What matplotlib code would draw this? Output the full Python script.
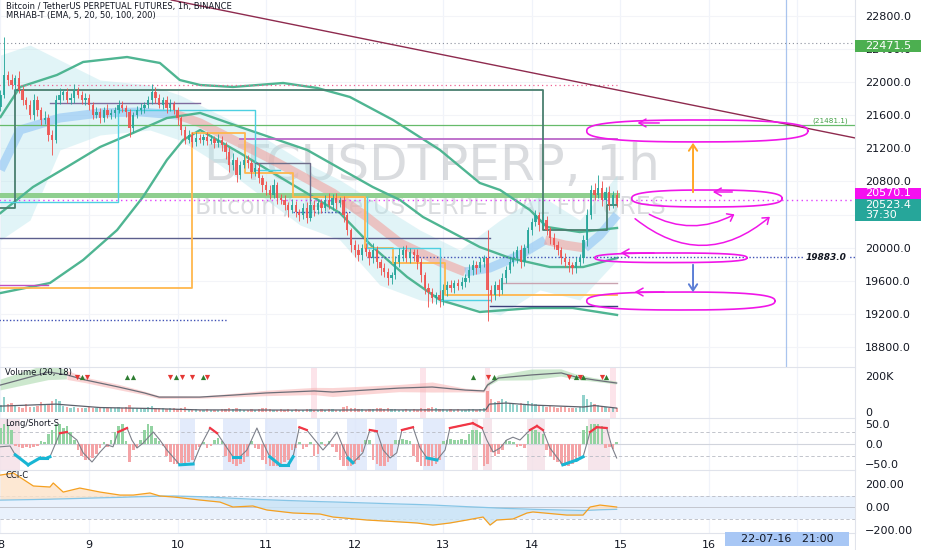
import numpy as np
import matplotlib
matplotlib.use("Agg")
import matplotlib.pyplot as plt
from matplotlib.lines import Line2D
from matplotlib.patches import Rectangle, FancyArrowPatch

plt.rcParams['font.family'] = ['DejaVu Sans']

# ---------------- data (hours since 2022-07-08 00:00, prices in USDT) ----------------
first_open = 21700
close_d8 = [21845,22087,22026,21966,22050,21905,21785,21724,21603,21785,21664,21543,21567,21362,21301,21785,21845,21881,21785,21809,21905,21845,21785,21809]
close_d9 = [21724,21603,21640,21567,21664,21603,21627,21664,21724,21688,21640,21446,21603,21664,21688,21724,21785,21881,21809,21724,21785,21688,21736,21664]
close_d10 = [21567,21422,21301,21362,21277,21325,21301,21337,21289,21313,21265,21301,21241,21156,20999,21059,20878,20999,21059,21023,20914,20963,20842,20757]
close_d11 = [20697,20636,20757,20600,20576,20516,20455,20516,20431,20395,20479,20358,20516,20455,20540,20479,20576,20516,20600,20540,20576,20395,20213,20032]
close_d12 = [19972,19911,19996,19948,19875,19972,19827,19754,19706,19633,19670,19827,19911,19972,19875,19948,19911,19827,19670,19513,19464,19392,19428,19367]
close_d13 = [19488,19549,19513,19573,19537,19585,19633,19730,19790,19754,19827,19875,19488,19428,19549,19488,19633,19730,19827,19875,19972,19827,19996,20213]
close_d14 = [20310,20395,20274,20334,20213,20117,20032,19972,19875,19827,19790,19754,19827,19875,20093,20395,20697,20636,20721,20576,20673,20516,20636,20523.4]

wick_up = [60,460,50,70,40,80,50,40,60,70,50,40,90,50,60,60,80,40,50,60,70,40,50,60,
           50,40,60,50,40,70,50,40,60,50,40,30,40,50,60,40,50,100,60,50,40,50,60,40,
           40,30,50,60,40,70,50,40,60,50,40,70,50,40,60,90,40,50,70,60,40,50,60,40,
           50,60,70,40,50,60,40,70,50,40,60,70,50,60,40,50,60,90,50,60,40,50,40,30,
           60,70,50,60,40,80,50,40,60,50,40,70,80,50,60,50,40,70,50,40,60,50,40,60,
           70,50,60,40,50,60,50,70,60,50,60,40,340,60,50,70,60,50,60,80,50,60,50,40,
           50,60,40,70,50,40,60,50,40,60,50,40,60,50,60,70,60,90,160,80,60,70,50,60]
wick_dn = [50,40,60,50,70,40,60,50,50,60,70,60,50,70,180,40,50,60,40,50,60,40,50,60,
           60,50,40,60,50,40,50,60,40,50,60,110,50,40,50,60,40,50,60,40,50,60,40,50,
           80,60,50,40,60,50,40,60,50,40,60,50,70,80,90,60,80,50,40,60,70,50,60,80,
           60,50,40,70,50,60,80,40,60,70,50,60,40,70,50,60,40,50,60,70,50,80,60,90,
           80,70,60,50,80,60,70,80,60,90,70,50,60,70,50,60,70,80,90,70,180,60,70,80,
           60,70,50,60,50,40,60,50,60,70,50,60,370,80,60,70,50,60,40,50,60,70,50,60,
           60,50,70,40,60,70,50,60,70,60,80,70,60,50,60,70,50,60,40,70,50,60,40,30]

volume_k = [40,85,45,50,35,30,25,45,30,30,35,55,40,45,60,70,60,35,30,25,30,25,20,25,
            30,25,20,25,30,20,25,22,30,25,28,40,25,22,20,24,28,35,25,20,22,18,20,22,
            18,22,30,18,14,15,12,14,16,12,14,12,16,18,22,18,24,16,14,12,16,14,18,22,
            20,16,14,12,15,13,16,12,15,13,12,15,18,14,12,15,13,16,15,13,12,30,35,25,
            22,18,15,13,18,15,20,22,18,20,15,18,14,12,15,13,16,14,20,18,22,26,20,18,
            15,13,16,13,15,12,14,18,15,13,18,22,115,75,55,60,75,60,50,45,40,50,40,60,
            50,45,40,35,30,35,30,25,28,30,25,22,25,30,95,72,55,45,40,35,30,25,22,20]
vol_ma_h = [0,15,27,40,54,80,110,131.5,132.5,137,144,158,161,167]
vol_ma_k = [33,44,25,20,12,11,12,12,44,50,39,28,36,22]
vol_osc_h = [0,13,18,23,32,39,43,54,63,72,85,90,99,108,117,126,131,132,135,144,152,156,161,167]
vol_osc_k = [150,222,206,178,139,106,83,83,94,106,117,111,122,133,139,122,117,150,189,206,217,194,178,161]
vol_osc_w = [30,45,25,15,15,10,8,6,10,15,20,25,22,20,28,10,8,10,15,30,20,15,10,8]
tri_up_h = [22.1,34.3,35.9,47.6,54.9,128,133.7,156,158,164]
tri_dn_h = [20.7,23.4,45.9,49.2,51.9,56,132,154,157,163]
vol_flag_h = [85,114.5,132,166]

ls_hist = [40,50,45,35, -5,-8,-10,-8,-10,-8,-5, 8,5, 25,35,50,50,40,45,30, 10,
           -15,-30,-40,-40,-35,-25, -10,5,-8,10, 30,45,50, 8,-45,-15,-10,10, 35,50,45, 15,8,-5,
           -30,-45,-50,-50,-48,-50,-45,-40, -15,-8,5,-10,-5, 10,15,8, -30,-45,-50,-55,-50,-45,-30, 8,-10,-12,
           -40,-50,-55,-55,-55,-50,-45,-40, -15,-10,5,-12,-8,5, -30,-25, 5,-5,8,-8,
           -20,-40,-55,-55,-55,-50,-40,-20, 10,10, -40,-50,-55,-55,-45,-30, 10,10,12,10,8,
           -30,-45,-55,-55,-55,-55,-50,-40, 8,10,12,10,10,12,10, 25,35,35,30, -55,-50, -20,-30,-25,-15, 10,8,5, -8,-5,-10,
           25,35,35,30,25, -15,-30,-40,-45,-50,-55,-55,-50,-45,-30, 35,45,50,50,50,45, -10,-8,-12,5]
osc_h = [0,2.6,4,7.5,10.7,12.6,13.4,16.1,18,20.7,22.4,24.8,27,28.8,30.5,31.9,34.3,35.6,37,38.6,41.4,43.2,45.1,48.6,52.2,
         54.1,56.8,58.7,61.4,63,64.9,66.8,69.5,71.2,73,75.7,78,79.3,81,83,87.4,89.3,91.2,92.8,94.2,95.5,98.2,100.1,102,103.7,
         105.6,107.4,108.8,111.8,113.7,115.6,118.3,120.5,121.8,128,130.5,131.8,133.5,135.4,137.2,138.9,140.8,143.5,145.4,147,
         148.9,152.4,156.2,157.9,159.8,161.6,164.3,165.7,167]
osc_v = [-7,-5,-27,-52,-35,-35,-32,27,30,10,-22,-45,-20,-2,-7,30,40,10,-10,2,30,10,-15,-52,-50,
         -7,40,27,-10,-32,-32,-15,40,2,-32,-52,-52,-32,42,35,-15,5,30,-7,-35,-47,-22,35,32,-15,
         -35,-22,35,42,-10,-35,-40,-15,40,52,40,10,-20,-10,10,17,10,35,45,35,
         -10,-52,-40,-32,30,42,40,-7,-35]
ls_blue = [(48.6,52.7),(60.3,67.6),(71.7,80.3),(85.8,86.6),(93.9,99.3),(101.5,107.5),(114.5,120.5)]
ls_pink = [(-1,5.3),(127.8,129.4),(130.8,133.2),(142.7,147.6),(159.2,165.2)]

cci_h = [0,3.5,8.9,13.4,14.3,17,21.5,27,32.4,36,40.5,43.2,47,54,59.5,63,68.4,72.2,79.3,86.6,90.1,99.3,108.3,112.9,117.2,
         121.8,126.4,130.8,132.7,134.5,138.9,142.7,144.3,153.5,157.9,159.8,162.5,167]
cci_v = [278,296,183,174,209,130,165,130,104,104,122,96,87,61,43,0,9,-26,-52,-61,-87,-113,-130,-139,-157,
         -139,-113,-87,-157,-113,-104,-52,-43,-70,-70,0,17,0]
cci_sig = [60,62,65,68,69,71,75,80,84,88,92,95,96,90,82,76,68,63,55,47,44,35,26,22,17,
           10,3,-3,-6,-9,-14,-18,-20,-27,-30,-28,-24,-20]

# indicator curves on price pane
bandA_h = [0,5.3,15.3,22.4,34.3,43.2,48.6,54.1,63,76.6,85.8,94.7,106.4,119.1,129.9,135.4,143.5,148.1,157,167.1]
bandA_p = [21579,21942,22087,22244,22304,22232,22026,21966,21942,21990,21930,21821,21543,21181,20782,20697,20455,20250,20189,20238]
bandD_h = [0,8.8,18,27,35.9,45.1,54.1,64.9,83.1,100.9,108.3,114.5,129.9,138.1,148.9,157.9,167.1]
bandD_p = [20419,20733,20975,21217,21386,21567,21628,21459,21181,20733,20576,20371,20008,19875,19766,19766,19875]
bandB_h = [0,13.4,22.4,31.6,38.6,45.1,49.5,54.1,64.9,75.7,92,100.9,110.2,119.1,129.9,144.3,155.1,167.1]
bandB_p = [19452,19573,19851,20213,20612,21060,21301,21422,21144,20854,20419,20008,19646,19368,19223,19271,19271,19187]
env_h = [0,8,16.1,27,40.5,48.6,59.5,70.3,81.2,92,102.8,113.7,124.5,135.4,146.2,157,167.1]
env_hi = [22328,22449,22268,22026,21966,21845,21603,21362,21060,20818,20516,20213,19972,20334,20637,20334,20878]
env_lo = [20093,20334,21181,21362,21422,21301,20999,20637,20274,20093,19549,19368,19307,19187,19489,19368,19851]
rib_segments = [
    ("bull", [0,5.3,16.1,27,37.8,48.1], [20939,21422,21567,21628,21640,21603]),
    ("bear", [48.1,54.1,72.2,90.1,99.3,108.3,119.1,125.9], [21603,21507,21096,20661,20371,20056,19827,19706]),
    ("bull", [125.9,132.6,140.8,147.6], [19706,19754,19911,20093]),
    ("bear", [147.6,153,158.4], [20093,20032,19996]),
    ("bull", [158.4,162.5,167.1], [19996,20153,20395]),
]
step_dark_h = [-1,3.9,3.9,147,147,164.4,164.4,167.1]
step_dark_p = [20479,20479,21906,21906,20213,20213,20516,20516]
step_orange_h = [-1,51.9,51.9,66.3,66.3,79.3,79.3,98.8,98.8,106.4,106.4,120.5,120.5,167.1]
step_orange_p = [19513,19513,21386,21386,20902,20902,20612,20612,19996,19996,19815,19815,19428,19428]
step_cyan1_h = [-1,31.8,31.8,69,69,75.7]
step_cyan1_p = [20552,20552,21664,21664,20939,20939]
step_cyan2_h = [99.3,99.3,119.1,119.1,132.7]
step_cyan2_p = [20612,19996,19996,19368,19368]
step_gray_h = [69,83.9,83.9]
step_gray_p = [21023,21023,20540]
trend_h = [46.3,231.6]
trend_p = [22993,21326]
# horizontal levels: (start hour, end hour, price, colour, style, width)
levels = [
    (-1,232,22471.5,'#8a8f9c',(0,(1,2.5)),0.8),
    (-1,167.1,21966,'#f06292',(0,(1,2.5)),0.9),
    (-1,232,21481.1,'#66bb6a','-',0.9),
    (64.9,167.1,21313,'#ba68c8','-',1.3),
    (-1,167.1,20637,'#8fcf8f','-',3.6),
    (-1,232,20570.1,'#e040fb',(0,(1,2.5)),1.0),
    (-1,132.7,20117,'#5c5f8d','-',1.0),
    (99.3,232,19883,'#3f51b5',(0,(1,1.5)),1.0),
    (79.3,94.7,20431,'#3f51b5',(0,(1,1.5)),1.0),
    (-1,61.6,19126,'#3f51b5',(0,(1,1.5)),1.0),
    (-1,12.9,19549,'#c050c0','-',1.0),
    (13.4,54.1,21748,'#7e6b9e','-',1.0),
    (132.7,167.1,19295,'#3d3f7a','-',1.0),
    (136.2,167.1,19573,'#c9a3b0','-',1.0),
]
# hand-drawn projection loops (hour0, hour1, price_top, price_bottom)
loops = [(158.9,218.8,21543,21278),(171.1,211.8,20697,20492),(161.1,202.3,19936,19820),(158.9,209.9,19464,19247)]
loop_arrows = [(179.3,171.9,21507),(199.1,192.3,20673),(177.9,167.3,19936),(180.6,171.1,19464)]
crosshair_h = 213
day_labels = ['8','9','10','11','12','13','14','15','16']
price_ticks = [18800,19200,19600,20000,20800,21200,21600,22000,22400,22800]

# ---------------- figure ----------------
W, H = 932, 550
fig = plt.figure(figsize=(W/100, H/100), dpi=100)
fig.patch.set_facecolor('white')
def fx(px): return px / W
def fy(py): return 1 - py / H
PW = 855
def add_ax(top, bottom):
    a = fig.add_axes([0, fy(bottom), fx(PW), (bottom - top) / H])
    for s in a.spines.values():
        s.set_visible(False)
    a.set_xlim(-0.135, 231.6)
    a.set_xticks([])
    a.yaxis.tick_right()
    a.tick_params(axis='y', length=0, pad=7.2, labelsize=8, labelcolor='#131722')
    for h in range(0, 217, 24):
        a.axvline(h, color='#f0f3fa', lw=0.9, zorder=0)
    return a

ax = add_ax(0, 367)
axv = add_ax(367, 418)
axl = add_ax(418, 470)
axc = add_ax(470, 533)

GREEN, RED, MAG = '#26a69a', '#ef5350', '#f016e8'

# ---- price pane ----
ax.set_ylim(18558, 22993)
ax.set_yticks(price_ticks)
ax.set_yticklabels([f"{v:.1f}" for v in price_ticks])
for p in price_ticks + [20400]:
    ax.axhline(p, color='#f3f4f8', lw=0.8, zorder=0)

ax.text(0.505, 0.548, "BTCUSDTPERP, 1h", transform=ax.transAxes, ha='center', va='center',
        fontsize=36, color='#a9acb3', alpha=0.42, zorder=1)
ax.text(0.503, 0.436, "Bitcoin / TetherUS PERPETUAL FUTURES", transform=ax.transAxes, ha='center',
        va='center', fontsize=17, color='#a9acb3', alpha=0.42, zorder=1)

ax.fill_between(env_h, env_lo, env_hi, color='#b2e4ea', alpha=0.38, lw=0, zorder=1.2)
for kind, hh, pp in rib_segments:
    ax.plot(hh, pp, color='#90c4f5' if kind == 'bull' else '#f1a3a0', lw=6.5, alpha=0.6,
            solid_capstyle='butt', zorder=2)
for hh, pp in [(bandA_h, bandA_p), (bandD_h, bandD_p), (bandB_h, bandB_p)]:
    ax.plot(hh, pp, color='#4fb592', lw=1.7, zorder=3)

for h0, h1, p, c, ls, lw in levels:
    ax.plot([h0, h1], [p, p], color=c, ls=ls, lw=lw, zorder=2.5 if lw > 3 else 3.2)
ax.plot(step_dark_h, step_dark_p, color='#4a7f6f', lw=1.3, zorder=3.3)
ax.plot(step_orange_h, step_orange_p, color='#ffb74d', lw=1.3, zorder=3.3)
ax.plot(step_cyan1_h, step_cyan1_p, color='#4dd0e1', lw=1.0, zorder=3.3)
ax.plot(step_cyan2_h, step_cyan2_p, color='#4dd0e1', lw=1.0, zorder=3.3)
ax.plot(step_gray_h, step_gray_p, color='#6d6d8a', lw=1.0, zorder=3.3)
ax.plot(trend_h, trend_p, color='#8e2a4e', lw=1.0, zorder=3.4)
ax.axvline(crosshair_h, color='#a9c4ee', lw=0.9, zorder=3)

closes = np.array(close_d8 + close_d9 + close_d10 + close_d11 + close_d12 + close_d13 + close_d14, dtype=float)
opens = np.r_[first_open, closes[:-1]]
hrs = np.arange(len(closes))
hi = np.maximum(opens, closes) + np.array(wick_up)
lo = np.minimum(opens, closes) - np.array(wick_dn)
up = closes >= opens
cols = np.where(up, GREEN, RED)
ax.vlines(hrs, lo, hi, colors=cols, lw=0.7, alpha=0.9, zorder=5)
ax.bar(hrs, np.maximum(np.abs(closes - opens), 8), bottom=np.minimum(opens, closes), width=0.62,
       color=cols, alpha=0.9, zorder=6)

# annotations
def loop(h0, h1, ptop, pbot, n=2.6):
    t = np.linspace(0, 2*np.pi, 240)
    cx, cy, a, b = (h0+h1)/2, (ptop+pbot)/2, (h1-h0)/2, (ptop-pbot)/2
    c, s = np.cos(t), np.sin(t)
    ax.plot(cx + a*np.sign(c)*np.abs(c)**(2/n), cy + b*np.sign(s)*np.abs(s)**(2/n),
            color=MAG, lw=1.2, zorder=7)
for l in loops:
    loop(*l)
for tail, head, p in loop_arrows:
    ax.annotate('', xy=(head, p), xytext=(tail, p),
                arrowprops=dict(arrowstyle='->,head_length=0.5,head_width=0.28', color=MAG, lw=1.1), zorder=7)
for a_, b_, rad in [((175.2, 20419), (199.6, 20419), 0.28), ((171.4, 20371), (209.1, 20395), 0.42)]:
    ax.add_patch(FancyArrowPatch(a_, b_, connectionstyle=f'arc3,rad={rad}',
                 arrowstyle='->,head_length=4,head_width=3', color=MAG, lw=1.1, zorder=7))
ax.annotate('', xy=(187.7, 21301), xytext=(187.7, 20637),
            arrowprops=dict(arrowstyle='->,head_length=0.45,head_width=0.3', color='#ffa726', lw=1.4), zorder=7)
ax.annotate('', xy=(187.7, 19428), xytext=(187.7, 19827),
            arrowprops=dict(arrowstyle='->,head_length=0.45,head_width=0.3', color='#5c7fd6', lw=1.4), zorder=7)
ax.text(229.7, 21500, "(21481.1)", ha='right', va='bottom', fontsize=5.2, color='#43a047', zorder=8)
ax.text(229.4, 19883, "19883.0", ha='right', va='center', fontsize=6.5, style='italic',
        weight='bold', color='#131722', zorder=8,
        bbox=dict(boxstyle='square,pad=0.1', fc='white', ec='none'))

fig.text(fx(6), fy(6.5), "Bitcoin / TetherUS PERPETUAL FUTURES, 1h, BINANCE", fontsize=6, color='#131722',
         va='center', ha='left')
fig.text(fx(6), fy(15.5), "MRHAB-T (EMA, 5, 20, 50, 100, 200)", fontsize=6, color='#131722',
         va='center', ha='left')

# ---- volume pane ----
axv.set_ylim(-33, 250)
axv.set_yticks([0, 200])
axv.set_yticklabels(['0', '200K'])
for h in vol_flag_h:
    axv.axvspan(h - 0.8, h + 0.8, color='#fce4ea', lw=0, zorder=0.5)
vol = np.array(volume_k, dtype=float)
axv.bar(hrs, vol, width=0.62, color=cols, alpha=0.5, zorder=2)
axv.plot(vol_ma_h, vol_ma_k, color='#5d606b', lw=0.9, zorder=3)
vh = np.array(vol_osc_h, float); vk = np.array(vol_osc_k, float); vw = np.array(vol_osc_w, float)
axv.fill_between(vh, vk - vw, vk + vw, where=(vh <= 20) | (vh >= 131), color='#a5d6a7', alpha=0.55, lw=0, zorder=1)
axv.fill_between(vh, vk - vw, vk + vw, where=(vh >= 18) & (vh <= 132), color='#f8b4b4', alpha=0.55, lw=0, zorder=1)
axv.plot(vh, vk, color='#6b6e78', lw=0.9, zorder=3)
axv.scatter(tri_up_h, [192]*len(tri_up_h), marker='^', s=14, color='#2e7d32', zorder=4, lw=0)
axv.scatter(tri_dn_h, [192]*len(tri_dn_h), marker='v', s=14, color='#e53935', zorder=4, lw=0)
axv.text(1.3, 218, "Volume (20, 18)", fontsize=6, color='#131722', va='center', zorder=5)

# ---- long/short pane ----
axl.set_ylim(-65, 65)
axl.set_yticks([50, 0, -50])
axl.set_yticklabels(['50.0', '0.0', '\u221250.0'])
for a_, b_ in ls_blue:
    axl.axvspan(a_, b_, color='#dce6fb', alpha=0.8, lw=0, zorder=0.5)
for a_, b_ in ls_pink:
    axl.axvspan(a_, b_, color='#f4dfe7', alpha=0.8, lw=0, zorder=0.5)
lsv = np.array(ls_hist, float)
axl.bar(hrs, lsv, width=0.7, color=np.where(lsv >= 0, '#93d3a2', '#f4a3a6'), zorder=2)
axl.axhline(0, color='#d1d4dc', lw=0.8, zorder=1)
for v in (30, -30):
    axl.axhline(v, color='#b8bbc4', lw=0.6, ls=(0, (4, 3)), zorder=1)
axl.plot(osc_h, osc_v, color='#7d808a', lw=0.8, zorder=3)
for i in range(len(osc_h) - 1):
    if osc_v[i] >= 25 and osc_v[i+1] >= 25:
        axl.plot(osc_h[i:i+2], osc_v[i:i+2], color='#f23645', lw=1.6, zorder=4)
    elif osc_v[i] <= -27 and osc_v[i+1] <= -27:
        axl.plot(osc_h[i:i+2], osc_v[i:i+2], color='#18b6d4', lw=2.2, zorder=4)
axl.text(1.3, 50, "Long/Short-S", fontsize=6, color='#131722', va='center', zorder=5)

# ---- CCI pane ----
axc.set_ylim(-226, 322)
axc.set_yticks([200, 0])
axc.set_yticklabels(['200.00', '0.00'])
axc.axhspan(-100, 100, color='#e9f1fc', lw=0, zorder=0.3)
for v in (100, -100):
    axc.axhline(v, color='#b8bbc4', lw=0.6, ls=(0, (4, 3)), zorder=1)
axc.axhline(0, color='#c3c6ce', lw=0.7, zorder=1)
ch = np.array(cci_h, float); cv = np.array(cci_v, float); cs = np.array(cci_sig, float)
axc.fill_between(ch, cv, cs, where=cv >= cs, interpolate=True, color='#fde3c8', alpha=0.8, lw=0, zorder=1.5)
axc.fill_between(ch, cv, cs, where=cv < cs, interpolate=True, color='#c9e4f6', alpha=0.8, lw=0, zorder=1.5)
axc.plot(ch, cs, color='#86c5e6', lw=0.9, zorder=2)
axc.plot(ch, cv, color='#f5a020', lw=0.9, zorder=3)
axc.text(1.3, 275, "CCI-C", fontsize=6, color='#131722', va='center', zorder=5)
axc.set_xticks(list(range(0, 193, 24)))
axc.set_xticklabels(day_labels)
axc.tick_params(axis='x', length=0, pad=5, labelsize=8, labelcolor='#131722')

# ---- frame / separators ----
for py in (367, 418, 470, 533):
    fig.add_artist(Line2D([0, fx(PW)], [fy(py), fy(py)], color='#e0e3eb', lw=0.8, zorder=10))
fig.add_artist(Line2D([fx(PW), fx(PW)], [fy(0), fy(550)], color='#e0e3eb', lw=0.8, zorder=10))

fig.text(fx(865), fy(531), "\u2212200.00", fontsize=8, color='#131722', va='center', ha='left', zorder=15)
fig.add_artist(Rectangle((fx(PW + 0.5), 0), 1 - fx(PW + 0.5), fy(533.5), transform=fig.transFigure,
                         facecolor='white', edgecolor='none', zorder=16))

def rbox(top, bottom, color):
    fig.add_artist(Rectangle((fx(PW), fy(bottom)), fx(921) - fx(PW), (bottom - top) / H,
                             transform=fig.transFigure, facecolor=color, edgecolor='none', zorder=20))
rbox(40, 52, '#4caf50')
fig.text(fx(865), fy(46), "22471.5", fontsize=8, color='white', va='center', ha='left', zorder=21)
rbox(188, 199, '#f50ff0')
fig.text(fx(865), fy(193.5), "20570.1", fontsize=8, color='white', va='center', ha='left', zorder=21)
rbox(199, 221, '#26a69a')
fig.text(fx(865), fy(204.5), "20523.4", fontsize=8, color='white', va='center', ha='left', zorder=21)
fig.text(fx(865), fy(215), "37:30", fontsize=8, color='white', va='center', ha='left', zorder=21)

fig.add_artist(Rectangle((fx(725), fy(546)), fx(849) - fx(725), 14 / H, transform=fig.transFigure,
                         facecolor='#a8c7f5', edgecolor='none', zorder=20))
fig.text(fx(787), fy(539.5), "22-07-16   21:00", fontsize=8, color='#131722', va='center', ha='center', zorder=21)

fig.savefig("out.png", dpi=100)
